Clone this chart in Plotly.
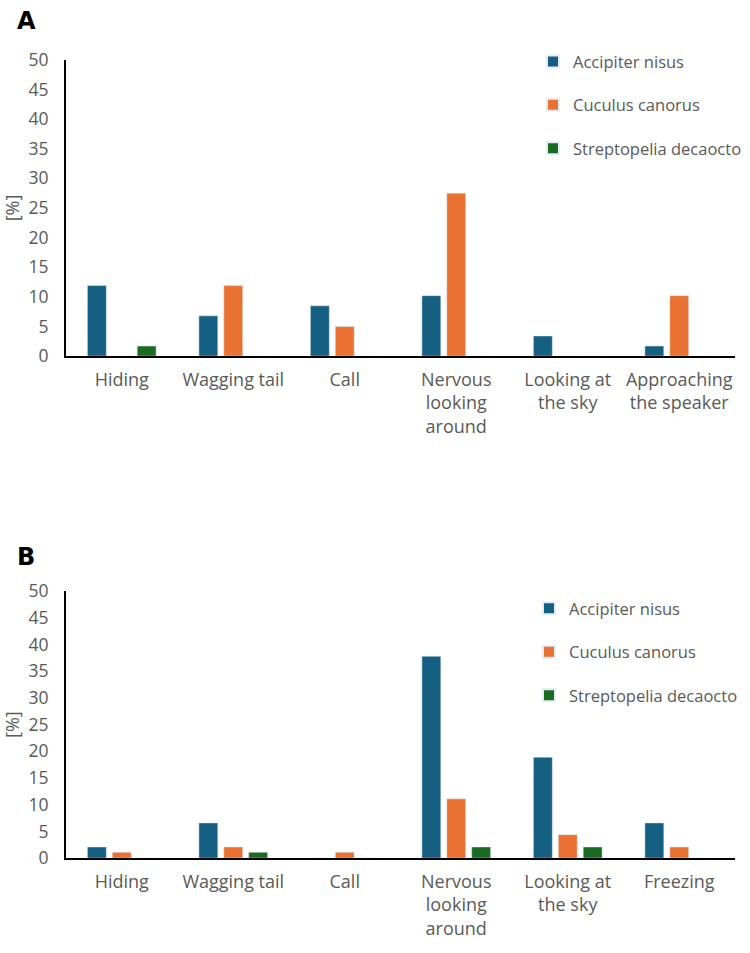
import plotly.graph_objects as go

species = ["Accipiter nisus", "Cuculus canorus", "Streptopelia decaocto"]
colors = ["#156082", "#E97132", "#196B24"]

cats_a = ["Hiding", "Wagging tail", "Call", "Nervous<br>looking<br>around",
          "Looking at<br>the sky", "Approaching<br>the speaker"]
a_accipiter = [11.9, 6.8, 8.5, 10.2, 3.4, 1.7]
a_cuculus = [0, 11.9, 5.0, 27.5, 0, 10.2]
a_streptopelia = [1.7, 0, 0, 0, 0, 0]

cats_b = ["Hiding", "Wagging tail", "Call", "Nervous<br>looking<br>around",
          "Looking at<br>the sky", "Freezing"]
b_accipiter = [2.1, 6.6, 0, 37.8, 18.9, 6.6]
b_cuculus = [1.1, 2.1, 1.1, 11.1, 4.4, 2.1]
b_streptopelia = [0, 1.1, 0, 2.1, 2.1, 0]

yticks = list(range(0, 51, 5))

FONT = "Open Sans"
GRAY = "#595959"

fig = go.Figure()
for i, vals in enumerate([a_accipiter, a_cuculus, a_streptopelia]):
    fig.add_trace(go.Bar(x=cats_a, y=vals, name=species[i], marker_color=colors[i],
                         xaxis="x", yaxis="y", legend="legend", legendgroup="a%d" % i))
for i, vals in enumerate([b_accipiter, b_cuculus, b_streptopelia]):
    fig.add_trace(go.Bar(x=cats_b, y=vals, name=species[i], marker_color=colors[i],
                         xaxis="x2", yaxis="y2", legend="legend2", legendgroup="b%d" % i))

xd = [66 / 750, 735 / 750]
H = 953
ya = [(H - 352) / H, (H - 48) / H]
yb = [(H - 867) / H, (H - 593) / H]

xaxis_common = dict(showline=True, linecolor="black", linewidth=2, ticks="",
                    showgrid=False, tickfont=dict(family=FONT, size=18, color=GRAY),
                    ticklabelstandoff=6, fixedrange=True)
yaxis_common = dict(range=[0, 50], tickvals=yticks, showline=True, linecolor="black",
                    linewidth=2, ticks="", showgrid=False, zeroline=False,
                    tickfont=dict(family=FONT, size=17.5, color=GRAY), ticklabelstandoff=12,
                    title=dict(text="[%]", font=dict(family=FONT, size=18, color=GRAY), standoff=5))

legend_common = dict(font=dict(family=FONT, size=16.5, color=GRAY), bgcolor="rgba(0,0,0,0)",
                     tracegroupgap=19, itemsizing="constant", xanchor="left", yanchor="top")

fig.update_layout(
    width=750, height=953,
    margin=dict(l=0, r=0, t=0, b=0),
    paper_bgcolor="white", plot_bgcolor="white",
    barmode="group", bargap=0.33, bargroupgap=0.24,
    xaxis=dict(domain=xd, anchor="y", **xaxis_common),
    yaxis=dict(domain=ya, anchor="x", **yaxis_common),
    xaxis2=dict(domain=xd, anchor="y2", **xaxis_common),
    yaxis2=dict(domain=yb, anchor="x2", **yaxis_common),
    legend=dict(x=533 / 750, y=(H - 32) / H, **legend_common),
    legend2=dict(x=529 / 750, y=(H - 593) / H, **legend_common),
    annotations=[
        dict(text="<b>A</b>", x=15 / 750, y=(H + 8) / H, xref="paper", yref="paper",
             xanchor="left", yanchor="top", showarrow=False,
             font=dict(family="DejaVu Sans", size=24, color="black")),
        dict(text="<b>B</b>", x=15 / 750, y=(H - 542) / H, xref="paper", yref="paper",
             xanchor="left", yanchor="top", showarrow=False,
             font=dict(family="DejaVu Sans", size=24, color="black")),
    ],
    showlegend=True,
)

fig.write_html("out.html")
